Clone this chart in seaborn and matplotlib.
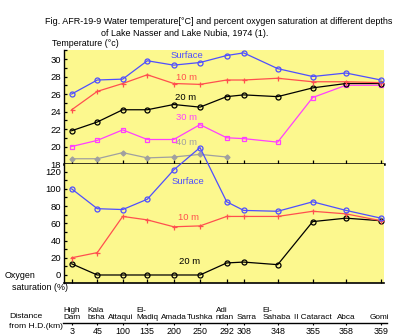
import matplotlib
matplotlib.use("Agg")
import matplotlib.pyplot as plt
import seaborn as sns
import pandas as pd
import numpy as np
from matplotlib.ticker import MultipleLocator, FixedLocator

# ---------------- data ----------------
stations = ["High\nDam", "Kala\nbsha", "Attaqui", "El-\nMadiq", "Amada", "Tushka",
            "Adi\nndan", "Sarra", "El-\nSahaba", "II Cataract", "Abca", "Gomi"]
distance_km = ["3", "45", "100", "135", "200", "250", "292", "308", "348", "355", "358", "359"]

temp_surface = [26.0, 27.6, 27.7, 29.8, 29.3, 29.6, 30.4, 30.7, 28.9, 28.0, 28.4, 27.6]
temp_10m = [24.2, 26.3, 27.2, 28.2, 27.2, 27.1, 27.6, 27.6, 27.8, 27.4, 27.4, 27.3]
temp_20m = [21.8, 22.8, 24.2, 24.2, 24.8, 24.5, 25.7, 25.9, 25.7, 26.7, 27.2, 27.2]
temp_30m = [20.0, 20.7, 21.9, 20.8, 20.8, 22.5, 21.0, 20.9, 20.5, 25.6, 27.0, 27.0]
temp_40m = [18.6, 18.6, 19.3, 18.7, 18.8, 19.1, 18.8]

oxy_surface = [100, 77, 76, 88, 122, 148, 85, 75, 74, 85, 75, 66]
oxy_10m = [20, 26, 68, 64, 56, 57, 68, 68, 68, 74, 71, 63]
oxy_20m = [13, 0, 0, 0, 0, 0, 14, 15, 12, 62, 66, 63]

# ---------------- layout (pixel positions of stations along the axis) ----------------
W, H = 407, 336
xpos = [71.7, 97.3, 122.7, 147.3, 173.7, 200.0, 226.7, 243.7, 277.7, 312.7, 346.0, 381.0]
name_dx = [0, -1, -2, 0, 0, 0, -2, 3, -1, 0, 0, -2]

plt.rcParams['font.family'] = ['Liberation Sans', 'DejaVu Sans']
fig = plt.figure(figsize=(W / 100, H / 100), dpi=100)
fig.patch.set_facecolor("white")

def fx(x):
    return x / W

def fy(y):
    return 1 - y / H

BG = "#fcf88e"
L, R = 64, 384
ax_t = fig.add_axes([fx(L), fy(164), fx(R - L), (164 - 50) / H])
ax_b = fig.add_axes([fx(L), fy(283), fx(R - L), (283 - 164) / H])

C_SURF = "#4f4fff"
C_10 = "#ff4f4f"
C_20 = "#000000"
C_30 = "#ff40ff"
C_40 = "#a0a0a0"

FS = 6.4

def draw(ax, vals, color, marker, filled=False, clip=True, ms=3.6):
    n = len(vals)
    df = pd.DataFrame({"x": xpos[:n], "y": vals})
    sns.lineplot(data=df, x="x", y="y", ax=ax, color=color, linewidth=0.9,
                 marker=marker, markersize=ms,
                 markerfacecolor=(color if filled else "none"),
                 markeredgecolor=color, markeredgewidth=0.9,
                 clip_on=clip, zorder=3)

# temperature panel
draw(ax_t, temp_40m, C_40, "D", filled=True, ms=2.6)
draw(ax_t, temp_30m, C_30, "s", ms=3.2)
draw(ax_t, temp_20m, C_20, "o")
draw(ax_t, temp_10m, C_10, "+")
draw(ax_t, temp_surface, C_SURF, "o")

# oxygen panel
draw(ax_b, oxy_20m, C_20, "o")
draw(ax_b, oxy_10m, C_10, "+")
draw(ax_b, oxy_surface, C_SURF, "o", clip=False)

for ax in (ax_t, ax_b):
    ax.set_facecolor(BG)
    ax.set_xlim(L, R)
    ax.set_xlabel("")
    ax.set_ylabel("")
    ax.spines["top"].set_visible(False)
    ax.spines["right"].set_visible(False)
    ax.spines["left"].set_linewidth(1.0)
    ax.xaxis.set_major_locator(FixedLocator(xpos))
    ax.tick_params(axis="x", direction="in", length=3, width=0.9, labelbottom=False)
    ax.tick_params(axis="y", which="both", direction="in", length=2.5, width=0.9,
                   labelsize=FS + 0.4, pad=2)

ax_t.set_ylim(18, 31.03)
ax_t.yaxis.set_major_locator(FixedLocator([18, 20, 22, 24, 26, 28, 30]))
ax_t.yaxis.set_minor_locator(MultipleLocator(1))
ax_t.spines["bottom"].set_linewidth(1.8)

ax_b.set_ylim(-9.3, 128.9)
ax_b.yaxis.set_major_locator(FixedLocator([0, 20, 40, 60, 80, 100, 120]))
ax_b.yaxis.set_minor_locator(MultipleLocator(10))
ax_b.spines["bottom"].set_linewidth(1.2)

# station / distance axis
ax_x = fig.add_axes([fx(63), fy(323), fx(387 - 63), 1 / H])
ax_x.set_xlim(63, 387)
ax_x.set_ylim(0, 1)
for s in ("top", "right", "left"):
    ax_x.spines[s].set_visible(False)
ax_x.spines["bottom"].set_linewidth(1.0)
ax_x.patch.set_visible(False)
ax_x.set_yticks([])
ax_x.set_xticks(xpos)
ax_x.set_xticklabels(distance_km, fontsize=FS)
ax_x.tick_params(axis="x", direction="out", length=1.5, width=0.8, pad=1.5)
for xp, dx, name in zip(xpos, name_dx, stations):
    ax_x.annotate(name, xy=(xp, 0), xycoords=("data", "axes fraction"),
                  xytext=(dx * 0.72, 1.5), textcoords="offset points",
                  ha="center", va="bottom", fontsize=5.9, multialignment="left",
                  linespacing=1.0)

# texts
fig.text(fx(219), fy(21), "Fig. AFR-19-9 Water temperature[°C] and percent oxygen saturation at different depths",
         ha="center", va="center", fontsize=6.5)
fig.text(fx(185), fy(33), "of Lake Nasser and Lake Nubia, 1974 (1).",
         ha="center", va="center", fontsize=6.5)
fig.text(fx(52), fy(43), "Temperature (°c)", ha="left", va="center", fontsize=FS)
fig.text(fx(5), fy(276), "Oxygen", ha="left", va="center", fontsize=FS)
fig.text(fx(12), fy(287), "saturation (%)", ha="left", va="center", fontsize=FS)
fig.text(fx(9), fy(317), "Distance", ha="left", va="center", fontsize=6.1)
fig.text(fx(9), fy(327), "from H.D.(km)", ha="left", va="center", fontsize=6.1)

lab = dict(ha="center", va="center", fontsize=FS + 0.4)
fig.text(fx(187), fy(55), "Surface", color=C_SURF, **lab)
fig.text(fx(186), fy(77), "10 m", color=C_10, **lab)
fig.text(fx(186), fy(97.5), "20 m", color=C_20, **lab)
fig.text(fx(186), fy(118), "30 m", color=C_30, **lab)
fig.text(fx(186), fy(142), "40 m", color=C_40, **lab)
fig.text(fx(188), fy(181), "Surface", color=C_SURF, **lab)
fig.text(fx(188), fy(218), "10 m", color=C_10, **lab)
fig.text(fx(190), fy(261), "20 m", color=C_20, **lab)

fig.savefig("out.png", dpi=100, facecolor="white")
